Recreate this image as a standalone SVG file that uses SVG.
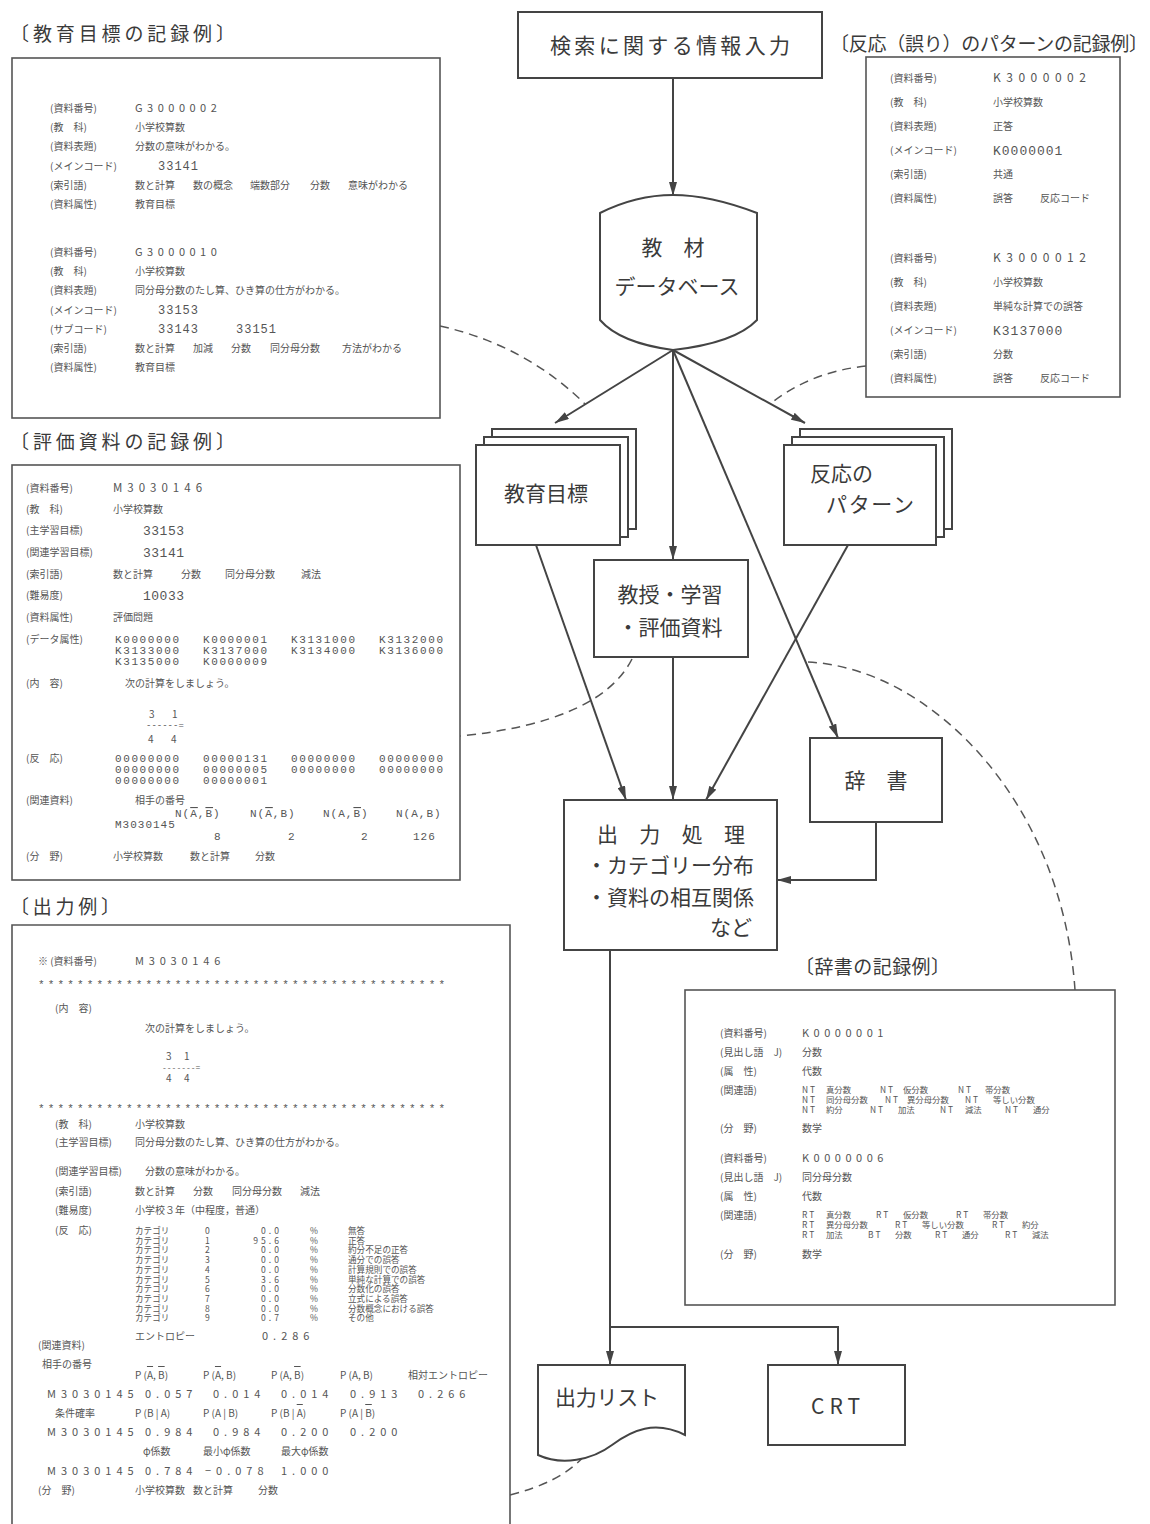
<svg xmlns="http://www.w3.org/2000/svg" width="1150" height="1524" viewBox="0 0 1150 1524">
<defs>
<style>
.r{font-family:"Noto Sans CJK JP","Noto Sans CJK SC",sans-serif;fill:#555;font-size:10px}
.mo{font-family:"Liberation Mono","DejaVu Sans Mono",monospace;fill:#555}
.big{font-family:"Noto Sans CJK JP","Noto Sans CJK SC",sans-serif;fill:#3a3a3a;font-size:21px}
.ttl{font-family:"Noto Sans CJK JP","Noto Sans CJK SC",sans-serif;fill:#3a3a3a;font-size:19px}
.panel{fill:#fff;stroke:#555;stroke-width:1.6}
.node{fill:#fff;stroke:#444;stroke-width:2}
.cn{fill:none;stroke:#444;stroke-width:2}
.dash{fill:none;stroke:#555;stroke-width:1.5;stroke-dasharray:9 6}
.ol{text-decoration:overline}
</style>
<marker id="ah" viewBox="0 0 14 8" refX="14" refY="4" markerWidth="14" markerHeight="8" orient="auto" markerUnits="userSpaceOnUse"><path d="M0,0 L14,4 L0,8 Z" fill="#444"/></marker>
</defs>
<rect width="1150" height="1524" fill="#fff"/>

<!-- connectors -->
<g id="connectors">
<path class="cn" d="M673,78 V196" marker-end="url(#ah)"/>
<path class="cn" d="M673,350 L555,423" marker-end="url(#ah)"/>
<path class="cn" d="M673,350 V560" marker-end="url(#ah)"/>
<path class="cn" d="M673,350 L838,738" marker-end="url(#ah)"/>
<path class="cn" d="M673,350 L805,423" marker-end="url(#ah)"/>
<path class="cn" d="M536,545 L626,800" marker-end="url(#ah)"/>
<path class="cn" d="M673,657 V800" marker-end="url(#ah)"/>
<path class="cn" d="M848,545 L706,800" marker-end="url(#ah)"/>
<path class="cn" d="M876,822 V880 H777" marker-end="url(#ah)"/>
<path class="cn" d="M610,950 V1365" marker-end="url(#ah)"/>
<path class="cn" d="M610,1327 H838 V1365" marker-end="url(#ah)"/>
<path class="dash" d="M440,326 Q525,345 585,404"/>
<path class="dash" d="M866,366 Q810,372 770,404"/>
<path class="dash" d="M632,659 Q600,722 460,736"/>
<path class="dash" d="M808,662 C930,668 1062,800 1075,990"/>
<path class="dash" d="M510,1495 Q562,1482 585,1455"/>
</g>

<!-- flow nodes -->
<g id="n-input">
<rect class="node" x="518" y="12" width="304" height="66"/>
<text class="big" x="670" y="53" text-anchor="middle" font-size="22" textLength="240">検索に関する情報入力</text>
</g>
<g id="n-db">
<path class="node" d="M600,213 Q636,195 673,195 Q710,195 757,213 V320 Q735,343 673,350 Q620,343 600,320 Z"/>
<text class="big" x="673" y="255" text-anchor="middle">教　材</text>
<text class="big" x="677" y="294" text-anchor="middle" textLength="125">データベース</text>
</g>
<g id="n-goal">
<rect class="node" x="492" y="429" width="144" height="100"/>
<rect class="node" x="484" y="437" width="144" height="100"/>
<rect class="node" x="476" y="445" width="144" height="100"/>
<text class="big" x="546" y="501" text-anchor="middle">教育目標</text>
</g>
<g id="n-pattern">
<rect class="node" x="800" y="429" width="152" height="100"/>
<rect class="node" x="792" y="437" width="152" height="100"/>
<rect class="node" x="784" y="445" width="152" height="100"/>
<text class="big" x="810" y="481">反応の</text>
<text class="big" x="826" y="512" textLength="88">パターン</text>
</g>
<g id="n-eval">
<rect class="node" x="594" y="560" width="154" height="97"/>
<text class="big" x="670" y="602" text-anchor="middle">教授・学習</text>
<text class="big" x="670" y="635" text-anchor="middle">・評価資料</text>
</g>
<g id="n-dict">
<rect class="node" x="810" y="738" width="132" height="84"/>
<text class="big" x="876" y="788" text-anchor="middle">辞　書</text>
</g>
<g id="n-output">
<rect class="node" x="564" y="800" width="213" height="150"/>
<text class="big" x="671" y="842" text-anchor="middle" textLength="148">出　力　処　理</text>
<text class="big" x="670" y="873" text-anchor="middle">・カテゴリー分布</text>
<text class="big" x="670" y="905" text-anchor="middle">・資料の相互関係</text>
<text class="big" x="752" y="935" text-anchor="end">など</text>
</g>
<g id="n-list">
<path class="node" d="M538,1365 H685 V1435 C655,1420 632,1430 612,1445 C592,1460 562,1466 538,1455 Z"/>
<text class="big" x="607" y="1405" text-anchor="middle" textLength="104">出力リスト</text>
</g>
<g id="n-crt">
<rect class="node" x="768" y="1365" width="137" height="80"/>
<text class="big" x="838" y="1414" text-anchor="middle" letter-spacing="5">CRT</text>
</g>

<!-- record panel: 教育目標 -->
<g id="rec-goal">
<text class="ttl" x="10" y="41" textLength="225">〔教育目標の記録例〕</text>
<rect class="panel" x="12" y="58" width="428" height="360"/>
<g class="r">
<text x="50" y="112">(資料番号)</text><text x="135" y="112" font-size="11" letter-spacing="4.5">G3000002</text>
<text x="50" y="131">(教　科)</text><text x="135" y="131">小学校算数</text>
<text x="50" y="150">(資料表題)</text><text x="135" y="150">分数の意味がわかる。</text>
<text x="50" y="170">(メインコード)</text><text class="mo" x="158" y="170" font-size="12" letter-spacing="1">33141</text>
<text x="50" y="189">(索引語)</text><text x="135" y="189">数と計算</text><text x="193" y="189">数の概念</text><text x="250" y="189">端数部分</text><text x="310" y="189">分数</text><text x="348" y="189">意味がわかる</text>
<text x="50" y="208">(資料属性)</text><text x="135" y="208">教育目標</text>
<text x="50" y="256">(資料番号)</text><text x="135" y="256" font-size="11" letter-spacing="4.5">G3000010</text>
<text x="50" y="275">(教　科)</text><text x="135" y="275">小学校算数</text>
<text x="50" y="294">(資料表題)</text><text x="135" y="294">同分母分数のたし算、ひき算の仕方がわかる。</text>
<text x="50" y="314">(メインコード)</text><text class="mo" x="158" y="314" font-size="12" letter-spacing="1">33153</text>
<text x="50" y="333">(サブコード)</text><text class="mo" x="158" y="333" font-size="12" letter-spacing="1">33143</text><text class="mo" x="236" y="333" font-size="12" letter-spacing="1">33151</text>
<text x="50" y="352">(索引語)</text><text x="135" y="352">数と計算</text><text x="193" y="352">加減</text><text x="231" y="352">分数</text><text x="270" y="352">同分母分数</text><text x="342" y="352">方法がわかる</text>
<text x="50" y="371">(資料属性)</text><text x="135" y="371">教育目標</text>
</g>
</g>

<!-- record panel: 評価資料 -->
<g id="rec-eval">
<text class="ttl" x="10" y="449" textLength="225">〔評価資料の記録例〕</text>
<rect class="panel" x="12" y="465" width="448" height="415"/>
<g class="r" font-size="10.5">
<text x="26" y="492">(資料番号)</text><text x="113" y="492" font-size="11.5" letter-spacing="5">M3030146</text>
<text x="26" y="513">(教　科)</text><text x="113" y="513">小学校算数</text>
<text x="26" y="534">(主学習目標)</text><text class="mo" x="143" y="535" font-size="13" letter-spacing="0.5">33153</text>
<text x="26" y="556">(関連学習目標)</text><text class="mo" x="143" y="557" font-size="13" letter-spacing="0.5">33141</text>
<text x="26" y="578">(索引語)</text><text x="113" y="578">数と計算</text><text x="181" y="578">分数</text><text x="225" y="578">同分母分数</text><text x="301" y="578">減法</text>
<text x="26" y="599">(難易度)</text><text class="mo" x="143" y="600" font-size="13" letter-spacing="0.5">10033</text>
<text x="26" y="621">(資料属性)</text><text x="113" y="621">評価問題</text>
<text x="26" y="643">(データ属性)</text>
<g class="mo" font-size="11" letter-spacing="1.6">
<text x="115" y="643">K0000000</text><text x="203" y="643">K0000001</text><text x="291" y="643">K3131000</text><text x="379" y="643">K3132000</text>
<text x="115" y="654">K3133000</text><text x="203" y="654">K3137000</text><text x="291" y="654">K3134000</text><text x="379" y="654">K3136000</text>
<text x="115" y="665">K3135000</text><text x="203" y="665">K0000009</text>
</g>
<text x="26" y="687">(内　容)</text><text x="125" y="687">次の計算をしましょう。</text>
<text x="149" y="718">3</text><text x="172" y="718">1</text>
<text class="mo" x="146" y="728" font-size="9">------=</text>
<text x="148" y="743">4</text><text x="171" y="743">4</text>
<text x="26" y="762">(反　応)</text>
<g class="mo" font-size="11" letter-spacing="1.6">
<text x="115" y="762">00000000</text><text x="203" y="762">00000131</text><text x="291" y="762">00000000</text><text x="379" y="762">00000000</text>
<text x="115" y="773">00000000</text><text x="203" y="773">00000005</text><text x="291" y="773">00000000</text><text x="379" y="773">00000000</text>
<text x="115" y="784">00000000</text><text x="203" y="784">00000001</text>
</g>
<text x="26" y="804">(関連資料)</text><text x="135" y="804">相手の番号</text>
<g class="mo" font-size="11" letter-spacing="1">
<text x="175" y="817">N(<tspan class="ol">A</tspan>,<tspan class="ol">B</tspan>)</text>
<text x="250" y="817">N(<tspan class="ol">A</tspan>,B)</text>
<text x="323" y="817">N(A,<tspan class="ol">B</tspan>)</text>
<text x="396" y="817">N(A,B)</text>
<text x="115" y="828">M3030145</text>
<text x="214" y="840">8</text><text x="288" y="840">2</text><text x="361" y="840">2</text><text x="413" y="840">126</text>
</g>
<text x="26" y="860">(分　野)</text><text x="113" y="860">小学校算数</text><text x="190" y="860">数と計算</text><text x="255" y="860">分数</text>
</g>
</g>

<!-- record panel: 出力例 -->
<g id="rec-output">
<text class="ttl" x="10" y="914" textLength="110">〔出力例〕</text>
<path class="panel" d="M12,1524 V925 H510 V1524"/>
<g class="r">
<text x="38" y="965">※ (資料番号)</text><text x="135" y="965" font-size="11" letter-spacing="4.8">M3030146</text>
<text class="mo" x="38" y="988" font-size="11" textLength="407" lengthAdjust="spacing">******************************************</text>
<text x="55" y="1012">(内　容)</text>
<text x="145" y="1032">次の計算をしましょう。</text>
<text x="166" y="1060">3</text><text x="184" y="1060">1</text>
<text class="mo" x="162" y="1070" font-size="8">-------=</text>
<text x="166" y="1082">4</text><text x="184" y="1082">4</text>
<text class="mo" x="38" y="1112" font-size="11" textLength="407" lengthAdjust="spacing">******************************************</text>
<text x="55" y="1128">(教　科)</text><text x="135" y="1128">小学校算数</text>
<text x="55" y="1146">(主学習目標)</text><text x="135" y="1146">同分母分数のたし算、ひき算の仕方がわかる。</text>
<text x="55" y="1175">(関連学習目標)</text><text x="145" y="1175">分数の意味がわかる。</text>
<text x="55" y="1195">(索引語)</text><text x="135" y="1195">数と計算</text><text x="193" y="1195">分数</text><text x="232" y="1195">同分母分数</text><text x="300" y="1195">減法</text>
<text x="55" y="1214">(難易度)</text><text x="135" y="1214">小学校３年（中程度，普通）</text>
<text x="55" y="1234">(反　応)</text>
<g font-size="8.6">
<text x="135" y="1234">カテゴリ</text><text x="205" y="1234">0</text><text x="282" y="1234" text-anchor="end" letter-spacing="3">0.0</text><text x="310" y="1234">%</text><text x="348" y="1234">無答</text>
<text x="135" y="1243.7">カテゴリ</text><text x="205" y="1243.7">1</text><text x="282" y="1243.7" text-anchor="end" letter-spacing="3">95.6</text><text x="310" y="1243.7">%</text><text x="348" y="1243.7">正答</text>
<text x="135" y="1253.4">カテゴリ</text><text x="205" y="1253.4">2</text><text x="282" y="1253.4" text-anchor="end" letter-spacing="3">0.0</text><text x="310" y="1253.4">%</text><text x="348" y="1253.4">約分不足の正答</text>
<text x="135" y="1263.1">カテゴリ</text><text x="205" y="1263.1">3</text><text x="282" y="1263.1" text-anchor="end" letter-spacing="3">0.0</text><text x="310" y="1263.1">%</text><text x="348" y="1263.1">通分での誤答</text>
<text x="135" y="1272.8">カテゴリ</text><text x="205" y="1272.8">4</text><text x="282" y="1272.8" text-anchor="end" letter-spacing="3">0.0</text><text x="310" y="1272.8">%</text><text x="348" y="1272.8">計算規則での誤答</text>
<text x="135" y="1282.5">カテゴリ</text><text x="205" y="1282.5">5</text><text x="282" y="1282.5" text-anchor="end" letter-spacing="3">3.6</text><text x="310" y="1282.5">%</text><text x="348" y="1282.5">単純な計算での誤答</text>
<text x="135" y="1292.2">カテゴリ</text><text x="205" y="1292.2">6</text><text x="282" y="1292.2" text-anchor="end" letter-spacing="3">0.0</text><text x="310" y="1292.2">%</text><text x="348" y="1292.2">分数化の誤答</text>
<text x="135" y="1301.9">カテゴリ</text><text x="205" y="1301.9">7</text><text x="282" y="1301.9" text-anchor="end" letter-spacing="3">0.0</text><text x="310" y="1301.9">%</text><text x="348" y="1301.9">立式による誤答</text>
<text x="135" y="1311.6">カテゴリ</text><text x="205" y="1311.6">8</text><text x="282" y="1311.6" text-anchor="end" letter-spacing="3">0.0</text><text x="310" y="1311.6">%</text><text x="348" y="1311.6">分数概念における誤答</text>
<text x="135" y="1321.3">カテゴリ</text><text x="205" y="1321.3">9</text><text x="282" y="1321.3" text-anchor="end" letter-spacing="3">0.7</text><text x="310" y="1321.3">%</text><text x="348" y="1321.3">その他</text>
</g>
<text x="135" y="1340">エントロピー</text><text x="262" y="1340" font-size="11" letter-spacing="5">0.286</text>
<text x="38" y="1349">(関連資料)</text>
<text x="42" y="1368">相手の番号</text>
<text x="135" y="1379">P (<tspan class="ol">A</tspan>, <tspan class="ol">B</tspan>)</text>
<text x="203" y="1379">P (<tspan class="ol">A</tspan>, B)</text>
<text x="271" y="1379">P (A, <tspan class="ol">B</tspan>)</text>
<text x="340" y="1379">P (A, B)</text>
<text x="408" y="1379">相対エントロピー</text>
<g font-size="11" letter-spacing="5">
<text x="47" y="1398">M3030145</text><text x="145" y="1398">0.057</text><text x="213" y="1398">0.014</text><text x="281" y="1398">0.014</text><text x="350" y="1398">0.913</text><text x="418" y="1398">0.266</text>
</g>
<text x="55" y="1417">条件確率</text>
<text x="135" y="1417">P (B | A)</text><text x="203" y="1417">P (A | B)</text><text x="271" y="1417">P (B | <tspan class="ol">A</tspan>)</text><text x="340" y="1417">P (A | <tspan class="ol">B</tspan>)</text>
<g font-size="11" letter-spacing="5">
<text x="47" y="1436">M3030145</text><text x="145" y="1436">0.984</text><text x="213" y="1436">0.984</text><text x="281" y="1436">0.200</text><text x="350" y="1436">0.200</text>
</g>
<text x="143" y="1455">φ係数</text><text x="203" y="1455">最小φ係数</text><text x="281" y="1455">最大φ係数</text>
<g font-size="11" letter-spacing="5">
<text x="47" y="1475">M3030145</text><text x="145" y="1475">0.784</text><text x="205" y="1475">−0.078</text><text x="281" y="1475">1.000</text>
</g>
<text x="38" y="1494">(分　野)</text><text x="135" y="1494">小学校算数</text><text x="193" y="1494">数と計算</text><text x="258" y="1494">分数</text>
</g>
</g>

<!-- record panel: 反応のパターン -->
<g id="rec-pattern">
<text class="ttl" x="830" y="51" textLength="318">〔反応（誤り）のパターンの記録例〕</text>
<rect class="panel" x="866" y="57" width="254" height="340"/>
<g class="r" font-size="11.5">
<text x="890" y="82">(資料番号)</text><text x="993" y="82" font-size="12" letter-spacing="5.5">K3000002</text>
<text x="890" y="106">(教　科)</text><text x="993" y="106">小学校算数</text>
<text x="890" y="130">(資料表題)</text><text x="993" y="130">正答</text>
<text x="890" y="154">(メインコード)</text><text class="mo" x="993" y="155" font-size="13" letter-spacing="1">K0000001</text>
<text x="890" y="178">(索引語)</text><text x="993" y="178">共通</text>
<text x="890" y="202">(資料属性)</text><text x="993" y="202">誤答</text><text x="1040" y="202">反応コード</text>
<text x="890" y="262">(資料番号)</text><text x="993" y="262" font-size="12" letter-spacing="5.5">K3000012</text>
<text x="890" y="286">(教　科)</text><text x="993" y="286">小学校算数</text>
<text x="890" y="310">(資料表題)</text><text x="993" y="310">単純な計算での誤答</text>
<text x="890" y="334">(メインコード)</text><text class="mo" x="993" y="335" font-size="13" letter-spacing="1">K3137000</text>
<text x="890" y="358">(索引語)</text><text x="993" y="358">分数</text>
<text x="890" y="382">(資料属性)</text><text x="993" y="382">誤答</text><text x="1040" y="382">反応コード</text>
</g>
</g>

<!-- record panel: 辞書 -->
<g id="rec-dict">
<text class="ttl" x="795" y="974" textLength="155">〔辞書の記録例〕</text>
<rect class="panel" x="685" y="990" width="430" height="315"/>
<g class="r" font-size="9.5">
<text x="720" y="1037">(資料番号)</text><text x="802" y="1037" font-size="11" letter-spacing="4.5">K0000001</text>
<text x="720" y="1056">(見出し語　J)</text><text x="802" y="1056">分数</text>
<text x="720" y="1075">(属　性)</text><text x="802" y="1075">代数</text>
<text x="720" y="1094">(関連語)</text>
<g font-size="8.4">
<text x="802" y="1093">N T</text><text x="826" y="1093">真分数</text><text x="880" y="1093">N T</text><text x="903" y="1093">仮分数</text><text x="958" y="1093">N T</text><text x="985" y="1093">帯分数</text>
<text x="802" y="1103">N T</text><text x="826" y="1103">同分母分数</text><text x="885" y="1103">N T</text><text x="907" y="1103">異分母分数</text><text x="965" y="1103">N T</text><text x="993" y="1103">等しい分数</text>
<text x="802" y="1113">N T</text><text x="826" y="1113">約分</text><text x="870" y="1113">N T</text><text x="898" y="1113">加法</text><text x="940" y="1113">N T</text><text x="965" y="1113">減法</text><text x="1005" y="1113">N T</text><text x="1033" y="1113">通分</text>
</g>
<text x="720" y="1132">(分　野)</text><text x="802" y="1132">数学</text>
<text x="720" y="1162">(資料番号)</text><text x="802" y="1162" font-size="11" letter-spacing="4.5">K0000006</text>
<text x="720" y="1181">(見出し語　J)</text><text x="802" y="1181">同分母分数</text>
<text x="720" y="1200">(属　性)</text><text x="802" y="1200">代数</text>
<text x="720" y="1219">(関連語)</text>
<g font-size="8.4">
<text x="802" y="1218">R T</text><text x="826" y="1218">真分数</text><text x="876" y="1218">R T</text><text x="903" y="1218">仮分数</text><text x="956" y="1218">R T</text><text x="983" y="1218">帯分数</text>
<text x="802" y="1228">R T</text><text x="826" y="1228">異分母分数</text><text x="895" y="1228">R T</text><text x="922" y="1228">等しい分数</text><text x="992" y="1228">R T</text><text x="1022" y="1228">約分</text>
<text x="802" y="1238">R T</text><text x="826" y="1238">加法</text><text x="868" y="1238">B T</text><text x="895" y="1238">分数</text><text x="935" y="1238">R T</text><text x="962" y="1238">通分</text><text x="1005" y="1238">R T</text><text x="1032" y="1238">減法</text>
</g>
<text x="720" y="1258">(分　野)</text><text x="802" y="1258">数学</text>
</g>
</g>
</svg>
